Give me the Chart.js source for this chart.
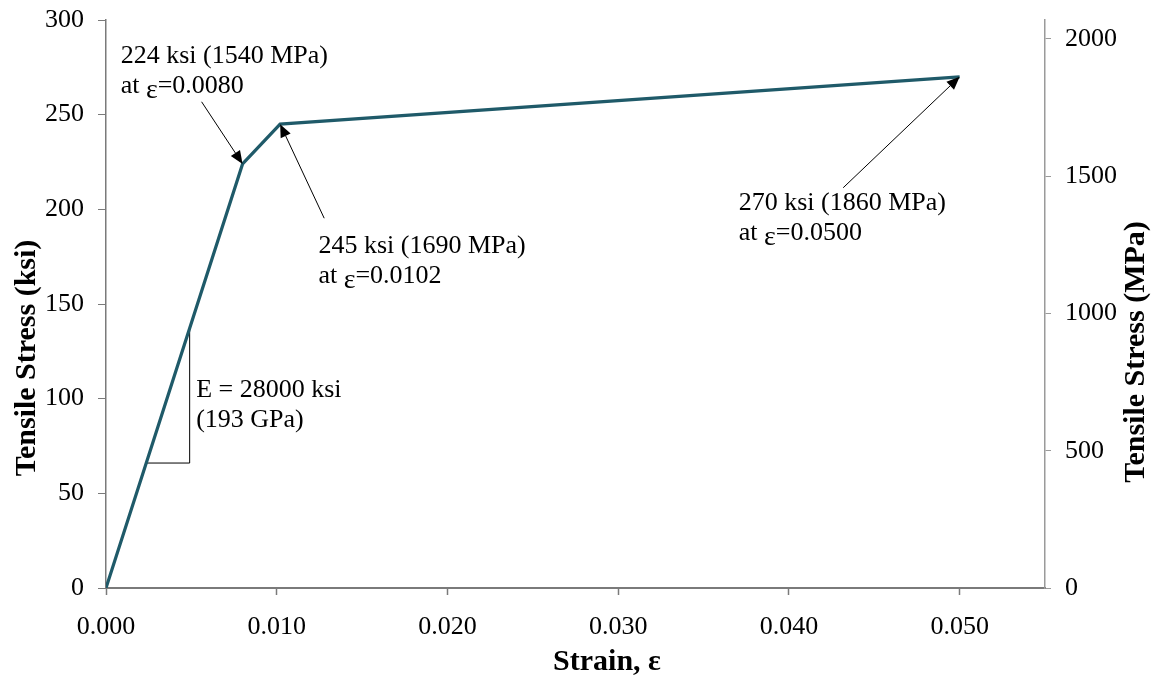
<!DOCTYPE html>
<html>
<head>
<meta charset="utf-8">
<script src="https://cdn.jsdelivr.net/npm/chart.js@4.4.0/dist/chart.umd.min.js"></script>
<style>
  body { margin: 0; background: #fff; }
</style>
</head>
<body>
<canvas id="stressStrainChart" width="1151" height="675"></canvas>
<script>
// stress-strain curve (ksi)
const strain = [0, 0.008, 0.0102, 0.05];
const stressKsi = [0, 224, 245, 270];

// little slope triangle next to the elastic part
const slopeStrain = [0.00236, 0.0049, 0.0049];
const slopeStress = [66, 66, 138];

const strainTicks = [0, 0.01, 0.02, 0.03, 0.04, 0.05];
const ksiTicks = [0, 50, 100, 150, 200, 250, 300];
const mpaTicks = [0, 500, 1000, 1500, 2000];
const KSI_TO_MPA = 6.895;

const SERIF = '"Liberation Serif", "Times New Roman", serif';

// text anchors and arrow tails are in data units (strain, ksi)
const callouts = [
  { lines: ["224 ksi (1540 MPa)", "at ε=0.0080"], at: [0.00086, 277.4], tail: [0.0056, 256.8], head: [0.008, 224] },
  { lines: ["245 ksi (1690 MPa)", "at ε=0.0102"], at: [0.01244, 176.9], tail: [0.01278, 195.3], head: [0.0102, 245] },
  { lines: ["270 ksi (1860 MPa)", "at ε=0.0500"], at: [0.03706, 199.6], tail: [0.04318, 211.4], head: [0.05, 270] },
  { lines: ["E = 28000 ksi", "(193 GPa)"], at: [0.00528, 101.0] }
];

function drawLine(ctx, text, x, y) {
  const idx = text.indexOf("ε");
  if (idx < 0) {
    ctx.fillText(text, x, y);
    return;
  }
  const before = text.slice(0, idx);
  const after = text.slice(idx + 1);
  ctx.fillText(before, x, y);
  x += ctx.measureText(before).width;
  const font = ctx.font;
  ctx.font = "28px " + SERIF;
  ctx.fillText("ε", x, y + 5);
  x += ctx.measureText("ε").width;
  ctx.font = font;
  ctx.fillText(after, x, y);
}

const calloutPlugin = {
  id: "callouts",
  afterDatasetsDraw(chart) {
    const ctx = chart.ctx;
    const xs = chart.scales.x;
    const ys = chart.scales.y;
    ctx.save();
    ctx.fillStyle = "#000";
    ctx.strokeStyle = "#000";
    ctx.textAlign = "left";
    ctx.textBaseline = "alphabetic";
    callouts.forEach(c => {
      ctx.font = "26px " + SERIF;
      const tx = xs.getPixelForValue(c.at[0]);
      const ty = ys.getPixelForValue(c.at[1]);
      c.lines.forEach((line, i) => drawLine(ctx, line, tx, ty + i * 30));

      if (c.tail) {
        const x1 = xs.getPixelForValue(c.tail[0]);
        const y1 = ys.getPixelForValue(c.tail[1]);
        const x2 = xs.getPixelForValue(c.head[0]);
        const y2 = ys.getPixelForValue(c.head[1]);
        const ang = Math.atan2(y2 - y1, x2 - x1);
        const len = 13;
        const half = 5.5;
        ctx.lineWidth = 1;
        ctx.beginPath();
        ctx.moveTo(x1, y1);
        ctx.lineTo(x2 - len * Math.cos(ang), y2 - len * Math.sin(ang));
        ctx.stroke();
        ctx.beginPath();
        ctx.moveTo(x2, y2);
        ctx.lineTo(x2 - len * Math.cos(ang) + half * Math.sin(ang), y2 - len * Math.sin(ang) - half * Math.cos(ang));
        ctx.lineTo(x2 - len * Math.cos(ang) - half * Math.sin(ang), y2 - len * Math.sin(ang) + half * Math.cos(ang));
        ctx.closePath();
        ctx.fill();
      }
    });
    ctx.restore();
  },
  afterDraw(chart) {
    const ctx = chart.ctx;
    ctx.save();
    ctx.fillStyle = "#000";
    ctx.font = "bold 30px " + SERIF;
    ctx.textAlign = "center";
    ctx.textBaseline = "middle";

    ctx.save();
    ctx.translate(27, 358);
    ctx.rotate(-Math.PI / 2);
    ctx.fillText("Tensile Stress (ksi)", 0, 0);
    ctx.restore();

    ctx.save();
    ctx.translate(1136, 352);
    ctx.rotate(-Math.PI / 2);
    ctx.fillText("Tensile Stress (MPa)", 0, 0);
    ctx.restore();

    ctx.textBaseline = "alphabetic";
    ctx.fillText("Strain, ε", 607, 670);
    ctx.restore();
  }
};

const tickFont = { family: SERIF, size: 26 };

// fixed axis boxes so the plot area lands where the original one is
function fitY(s) {
  s.width = 106;
  s.paddingTop = 0;
  s.paddingBottom = 0;
}

new Chart(document.getElementById("stressStrainChart"), {
  type: "scatter",
  data: {
    datasets: [
      {
        label: "Strand",
        data: strain.map((s, i) => ({ x: s, y: stressKsi[i] })),
        showLine: true,
        borderColor: "#1f5a69",
        borderWidth: 3.2,
        pointRadius: 0,
        tension: 0
      },
      {
        label: "Slope",
        data: slopeStrain.map((s, i) => ({ x: s, y: slopeStress[i] })),
        showLine: true,
        borderColor: "#000",
        borderWidth: 1,
        pointRadius: 0,
        tension: 0
      }
    ]
  },
  options: {
    responsive: false,
    animation: false,
    layout: { padding: { top: 20, left: 0, right: 0, bottom: 0 } },
    plugins: {
      legend: { display: false },
      tooltip: { enabled: false }
    },
    scales: {
      x: {
        type: "linear",
        position: "bottom",
        min: 0,
        max: 0.055,
        afterBuildTicks: s => { s.ticks = strainTicks.map(v => ({ value: v })); },
        afterFit: s => { s.height = 87; s.paddingLeft = 0; s.paddingRight = 0; },
        ticks: {
          font: tickFont,
          color: "#000",
          padding: 17,
          maxRotation: 0,
          callback: v => Number(v).toFixed(3)
        },
        grid: { drawOnChartArea: false, drawTicks: true, tickLength: 7, color: "#7a7a7a", tickWidth: 1.5 },
        border: { color: "#7a7a7a", width: 2 }
      },
      y: {
        position: "left",
        min: 0,
        max: 300,
        afterBuildTicks: s => { s.ticks = ksiTicks.map(v => ({ value: v })); },
        afterFit: fitY,
        ticks: { font: tickFont, color: "#000", padding: 14, callback: v => String(v) },
        grid: { drawOnChartArea: false, drawTicks: true, tickLength: 8, color: "#7a7a7a" },
        border: { color: "#7a7a7a", width: 1.5 }
      },
      y2: {
        position: "right",
        min: 0,
        max: 300 * KSI_TO_MPA,
        afterBuildTicks: s => { s.ticks = mpaTicks.map(v => ({ value: v })); },
        afterFit: fitY,
        ticks: { font: tickFont, color: "#000", padding: 14, callback: v => String(v) },
        grid: { drawOnChartArea: false, drawTicks: true, tickLength: 6, color: "#9a9a9a" },
        border: { color: "#9a9a9a", width: 1.5 }
      }
    }
  },
  plugins: [calloutPlugin]
});
</script>
</body>
</html>
